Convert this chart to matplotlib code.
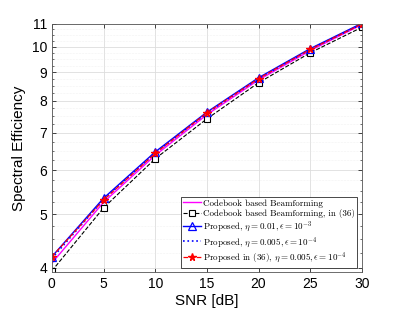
import numpy as np
import matplotlib
matplotlib.use('Agg')
import matplotlib.pyplot as plt
from matplotlib.ticker import FixedLocator, FixedFormatter, NullFormatter

# 数据
snr = [0, 5, 10, 15, 20, 25, 30]
codebook = [4.08, 5.25, 6.38, 7.55, 8.72, 9.85, 10.97]
codebook_36 = [3.95, 5.13, 6.29, 7.42, 8.62, 9.76, 10.85]
proposed_1 = [4.19, 5.34, 6.47, 7.63, 8.80, 9.93, 11.03]
proposed_2 = [4.16, 5.31, 6.44, 7.60, 8.77, 9.90, 11.00]
proposed_36 = [4.19, 5.30, 6.43, 7.61, 8.77, 9.90, 11.00]

y_ticks = [4, 5, 6, 7, 8, 9, 10, 11]
x_ticks = [0, 5, 10, 15, 20, 25, 30]

plt.rcParams['font.family'] = ['Liberation Sans', 'DejaVu Sans']
plt.rcParams['mathtext.fontset'] = 'cm'

fig = plt.figure(figsize=(3.99, 3.11), dpi=100)
ax = fig.add_axes([0.130, 0.125, 0.777, 0.798])

# 绘制曲线
ax.plot(snr, codebook, '-', color='#FF00FF', linewidth=1.0,
        label='Codebook based Beamforming')
ax.plot(snr, codebook_36, '--', color='black', linewidth=0.8, marker='s', markersize=4,
        markerfacecolor='white', markeredgewidth=0.8,
        label='Codebook based Beamforming, in (36)')
ax.plot(snr, proposed_1, '-', color='blue', linewidth=1.0, marker='^', markersize=5.5,
        markerfacecolor='none', markeredgewidth=0.9,
        label=r'Proposed, $\eta=0.01, \epsilon=10^{-3}$')
ax.plot(snr, proposed_2, ':', color='blue', linewidth=1.2,
        label=r'Proposed, $\eta=0.005, \epsilon=10^{-4}$')
ax.plot(snr, proposed_36, '--', color='red', linewidth=0.9, marker='*', markersize=5.5,
        markeredgewidth=1.0,
        label=r'Proposed in (36), $\eta=0.005, \epsilon=10^{-4}$')

# 坐标轴设置
ax.set_yscale('log')
ax.set_xlim(0, 30)
ax.set_ylim(3.93, 11.0)
ax.yaxis.set_major_locator(FixedLocator(y_ticks))
ax.yaxis.set_major_formatter(FixedFormatter([str(v) for v in y_ticks]))
ax.yaxis.set_minor_locator(FixedLocator(np.arange(4.0, 11.01, 0.25)))
ax.yaxis.set_minor_formatter(NullFormatter())
ax.set_xticks(x_ticks)

ax.tick_params(which='both', direction='in', top=True, right=True, labelsize=10)
ax.tick_params(which='major', length=3, width=0.5)
ax.tick_params(which='minor', length=1.5, width=0.4)

ax.grid(True, which='major', color='#dddddd', linewidth=0.6)
ax.grid(True, which='minor', axis='y', color='#e6e6e6', linewidth=0.4, linestyle=':')
for s in ax.spines.values():
    s.set_color('#555555')
    s.set_linewidth(0.6)

ax.set_xlabel('SNR [dB]', fontsize=11, labelpad=2)
ax.set_ylabel('Spectral Efficiency', fontsize=11, labelpad=4)

leg = ax.legend(loc='lower right', prop={'family': 'cmr10', 'size': 6.5},
                fancybox=False, edgecolor='black', framealpha=1,
                handlelength=2.0, handletextpad=0.2, borderpad=0.25,
                labelspacing=0.15, borderaxespad=0.5)
leg.get_frame().set_linewidth(0.5)

fig.savefig('out.png', dpi=100)
